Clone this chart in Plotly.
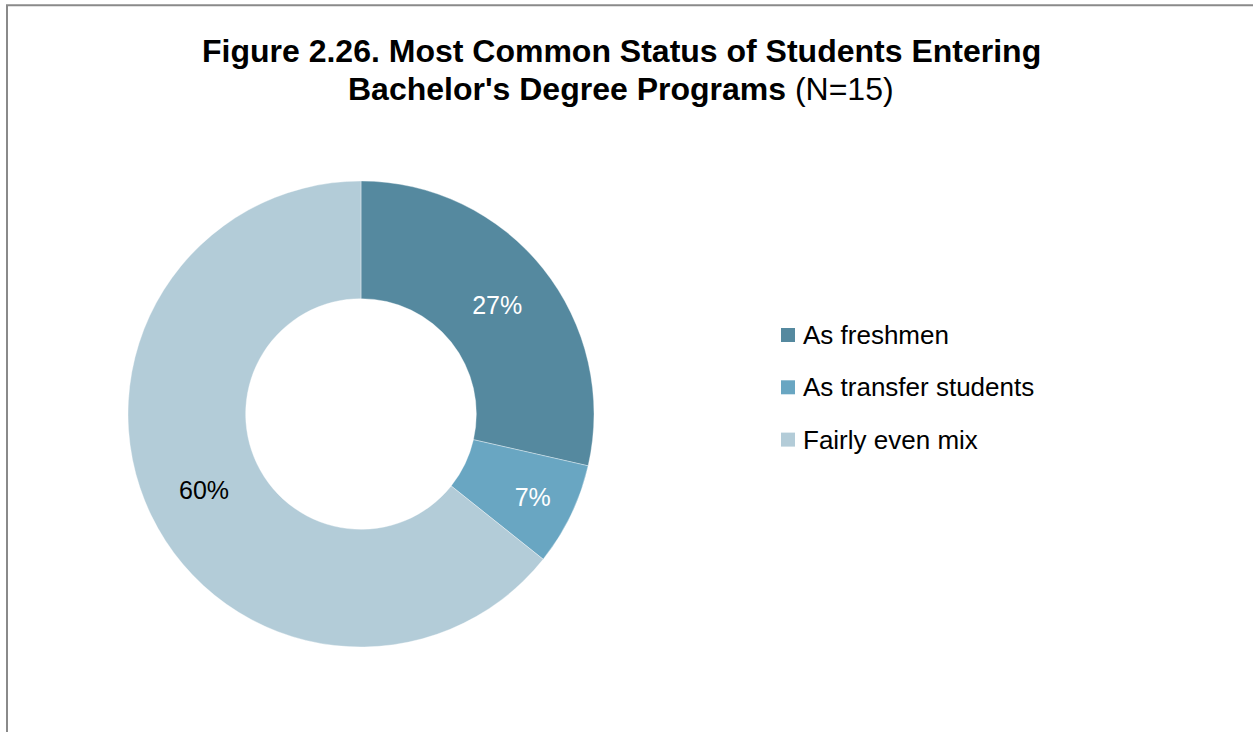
import plotly.graph_objects as go

# Survey responses (count of programs per answer), N = 15
categories = ["As freshmen", "As transfer students", "Fairly even mix"]
counts = [4, 1, 9]
n_total = 15
colors = ["#55899f", "#69a6c2", "#b3ccd8"]
label_colors = ["white", "white", "black"]

title_lines = [
    "<b>Figure 2.26. Most Common Status of Students Entering</b>",
    f"<b>Bachelor's Degree Programs</b> (N={n_total})",
]

pct_text = [f"{round(c / n_total * 100)}%" for c in counts]

W, H = 1253, 732
FONT = "Liberation Sans, Arial, Helvetica, sans-serif"

# donut geometry in pixels
cx, cy, r = 361, 414, 233

fig = go.Figure(
    go.Pie(
        labels=categories,
        values=counts,
        text=pct_text,
        textinfo="text",
        textposition="inside",
        insidetextorientation="horizontal",
        textfont=dict(family=FONT, size=25, color=label_colors),
        marker=dict(colors=colors, line=dict(color="rgba(255,255,255,0.6)", width=0.6)),
        hole=0.495,
        sort=False,
        direction="clockwise",
        rotation=0,
        showlegend=False,
        hoverinfo="label+percent",
        domain=dict(
            x=[(cx - r) / W, (cx + r) / W],
            y=[(H - cy - r) / H, (H - cy + r) / H],
        ),
    )
)

shapes = [
    # chart frame
    dict(type="rect", xref="paper", yref="paper",
         x0=7 / W, x1=1.02, y0=-0.02, y1=1 - 5.3 / H,
         line=dict(color="#8a8a8a", width=2), fillcolor="rgba(0,0,0,0)"),
]
annotations = []

# two-line title
for text, yc in zip(title_lines, [51, 89]):
    annotations.append(dict(xref="paper", yref="paper", x=621 / W, y=1 - yc / H,
                            xanchor="center", yanchor="middle", showarrow=False,
                            text=text, font=dict(family=FONT, size=32, color="black")))

# legend entries
leg_x, leg_y0, leg_dy, sq = 781, 335, 52.3, 14
for i, (name, col) in enumerate(zip(categories, colors)):
    yc = leg_y0 + i * leg_dy
    shapes.append(dict(type="rect", xref="paper", yref="paper",
                       x0=leg_x / W, x1=(leg_x + sq) / W,
                       y0=1 - (yc + sq / 2) / H, y1=1 - (yc - sq / 2) / H,
                       line=dict(width=0), fillcolor=col))
    annotations.append(dict(xref="paper", yref="paper", x=801 / W, y=1 - yc / H,
                            xanchor="left", yanchor="middle", showarrow=False,
                            text=name, font=dict(family=FONT, size=26, color="black")))

fig.update_layout(
    width=W, height=H,
    margin=dict(l=0, r=0, t=0, b=0),
    paper_bgcolor="white",
    plot_bgcolor="white",
    shapes=shapes,
    annotations=annotations,
)

fig.write_html("out.html")
